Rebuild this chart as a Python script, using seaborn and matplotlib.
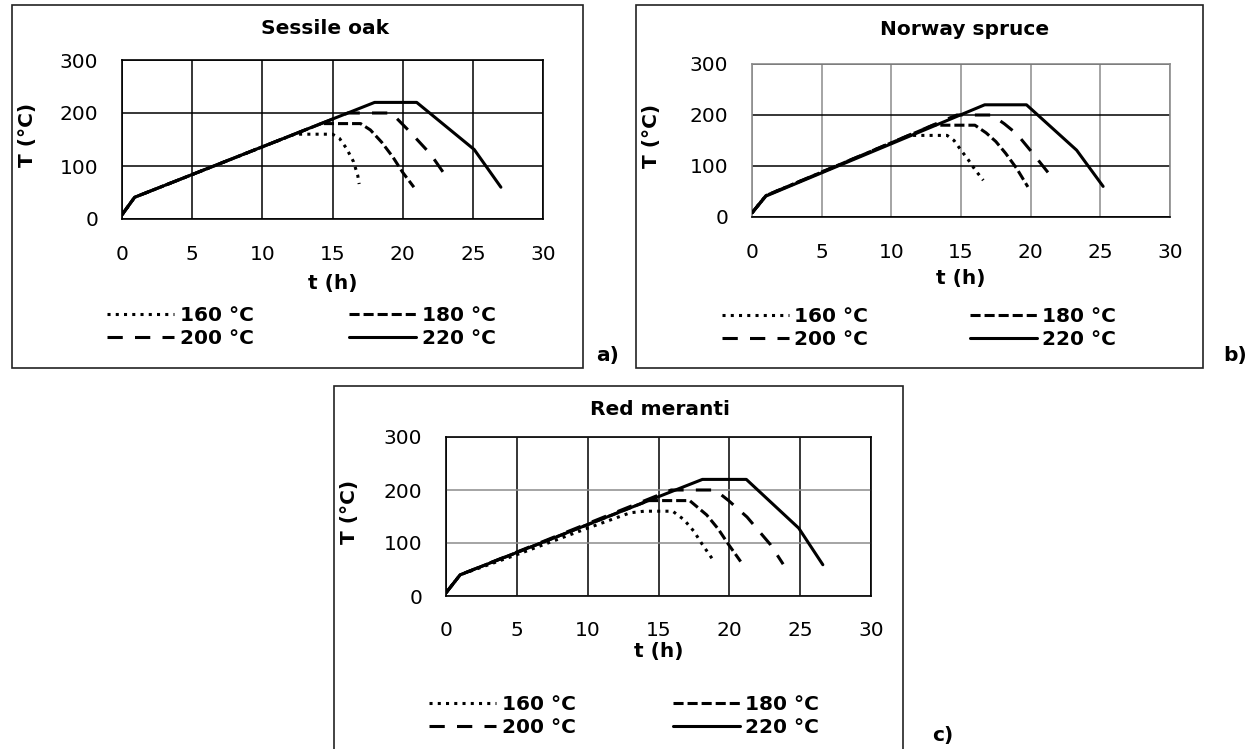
import matplotlib
matplotlib.use("Agg")
import matplotlib.pyplot as plt
import seaborn as sns
import pandas as pd
from matplotlib.lines import Line2D
from matplotlib.patches import Rectangle

sns.set_style("white")
plt.rcParams["font.family"] = ["DejaVu Sans"]
plt.rcParams["text.color"] = "black"
plt.rcParams["axes.labelcolor"] = "black"
plt.rcParams["xtick.color"] = "black"
plt.rcParams["ytick.color"] = "black"

W, H = 1251, 749
FS = 14.5

series_labels = ["160 °C", "180 °C", "200 °C", "220 °C"]
panel_titles = ["Sessile oak", "Norway spruce", "Red meranti"]
panel_tags = ["a)", "b)", "c)"]
x_ticks = [0, 5, 10, 15, 20, 25, 30]
y_ticks = [0, 100, 200, 300]

# ---- Sessile oak ----
oak_t_160 = [0, 0.9, 12.3, 15.0, 15.5, 16.0, 16.5, 16.8, 16.9]
oak_T_160 = [8, 41, 160, 160, 152, 133, 108, 82, 66]
oak_t_180 = [0, 0.9, 14.2, 17.0, 17.7, 18.5, 19.3, 20.0, 20.8]
oak_T_180 = [8, 41, 180, 180, 168, 145, 117, 88, 60]
oak_t_200 = [0, 0.9, 16.1, 19.2, 20.5, 22.0, 23.1]
oak_T_200 = [8, 41, 200, 200, 165, 122, 80]
oak_t_220 = [0, 0.9, 18.0, 21.0, 25.1, 27.0]
oak_T_220 = [8, 41, 220, 220, 131, 60]

# ---- Norway spruce ----
spr_t_160 = [0, 1.0, 11.3, 14.0, 14.5, 15.0, 15.5, 16.0, 16.6]
spr_T_160 = [8, 42, 160, 160, 150, 131, 113, 93, 72]
spr_t_180 = [0, 1.0, 13.0, 16.0, 16.8, 17.5, 18.2, 19.0, 19.8]
spr_T_180 = [8, 42, 180, 180, 165, 148, 125, 95, 59]
spr_t_200 = [0, 1.0, 14.7, 17.2, 18.1, 19.0, 20.0, 21.4]
spr_T_200 = [8, 42, 200, 200, 183, 163, 130, 82]
spr_t_220 = [0, 1.0, 16.7, 19.7, 23.3, 25.2]
spr_T_220 = [8, 41, 220, 220, 131, 60]

# ---- Red meranti ----
mer_t_160 = [0, 1.0, 5.0, 10.0, 13.0, 14.0, 16.0, 16.8, 17.5, 18.1, 18.8]
mer_T_160 = [6, 40, 78, 128, 157, 160, 160, 144, 122, 97, 70]
mer_t_180 = [0, 1.0, 14.3, 17.2, 18.4, 19.2, 19.95, 20.8]
mer_T_180 = [6, 40, 180, 180, 153, 127, 97, 65]
mer_t_200 = [0, 1.0, 15.9, 19.0, 19.95, 21.25, 22.9, 23.8]
mer_T_200 = [6, 40, 200, 200, 180, 149, 97, 60]
mer_t_220 = [0, 1.0, 18.1, 21.2, 24.9, 26.6]
mer_T_220 = [6, 40, 220, 220, 128, 59]

panel_data = [
    [(oak_t_160, oak_T_160), (oak_t_180, oak_T_180), (oak_t_200, oak_T_200), (oak_t_220, oak_T_220)],
    [(spr_t_160, spr_T_160), (spr_t_180, spr_T_180), (spr_t_200, spr_T_200), (spr_t_220, spr_T_220)],
    [(mer_t_160, mer_T_160), (mer_t_180, mer_T_180), (mer_t_200, mer_T_200), (mer_t_220, mer_T_220)],
]

dash_map = {"160 °C": (1, 1.7), "180 °C": (3.3, 1.3), "200 °C": (5, 4), "220 °C": ""}
LW = 2.2

# layout in pixels
axes_px = [(122, 543, 60, 219), (752, 1170, 64, 217), (446, 871, 437, 596)]
box_px = [(12, 583, 5, 368), (636, 1203, 5, 368), (334, 903, 386, 760)]
tag_px = [(596, 355), (1223, 355), (932, 735)]
title_pad = [19, 21, 16]
title_x = [325, 965, 660]
xlabel_y = [283, 279, 651]
legend_cols = [(107, 349, 327), (722, 970, 328), (429, 673, 716)]

GREY = "#8c8c8c"
grid_styles = [
    dict(v="black", h="black", spines=dict(left="black", right="black", top="black", bottom="black")),
    dict(v=GREY, h="black", spines=dict(left=GREY, right=GREY, top=GREY, bottom="black")),
    dict(v="black", h=GREY, spines=dict(left="black", right="black", top="black", bottom="black")),
]

fig = plt.figure(figsize=(W / 100, H / 100), dpi=100)

for i in range(3):
    l, r, t, b = axes_px[i]
    ax = fig.add_axes([l / W, 1 - b / H, (r - l) / W, (b - t) / H])
    frames = []
    for lab, (tt, TT) in zip(series_labels, panel_data[i]):
        frames.append(pd.DataFrame({"t": tt, "T": TT, "series": lab}))
    df = pd.concat(frames, ignore_index=True)
    sns.lineplot(data=df, x="t", y="T", style="series", style_order=series_labels,
                 dashes=dash_map, color="black", linewidth=LW, sort=False,
                 estimator=None, legend=False, ax=ax, zorder=3)
    ax.set_xlim(0, 30)
    ax.set_ylim(0, 300)
    ax.set_xticks(x_ticks)
    ax.set_yticks(y_ticks)
    ax.tick_params(axis="both", length=0, labelsize=FS, colors="black")
    ax.tick_params(axis="y", pad=17)
    ax.tick_params(axis="x", pad=19 if i < 2 else 18)
    gs = grid_styles[i]
    ax.xaxis.grid(True, color=gs["v"], linewidth=1.1)
    ax.yaxis.grid(True, color=gs["h"], linewidth=1.1)
    ax.set_axisbelow(True)
    for side, col in gs["spines"].items():
        ax.spines[side].set_color(col)
        ax.spines[side].set_linewidth(1.2)
        ax.spines[side].set_visible(True)
    ax.set_title(panel_titles[i], fontsize=FS, fontweight="bold", pad=title_pad[i],
                 x=(title_x[i] - l) / (r - l), color="black")
    ax.set_xlabel("t (h)", fontsize=FS, fontweight="bold", color="black")
    ax.set_ylabel("T (°C)", fontsize=FS, fontweight="bold", color="black")
    ax.xaxis.set_label_coords(0.5, (b - xlabel_y[i]) / (b - t))
    ax.xaxis.label.set_verticalalignment("center")
    ax.yaxis.set_label_coords((box_px[i][0] + 16 - l) / (r - l), 0.53)
    ax.yaxis.label.set_verticalalignment("center")

    # legend: two columns, each its own legend block
    handles = {lab: Line2D([], [], color="black", linewidth=LW,
                           linestyle=((0, dash_map[lab]) if dash_map[lab] else "-"))
               for lab in series_labels}
    c1, c2, ly = legend_cols[i]
    for cx, labs in ((c1, ["160 °C", "200 °C"]), (c2, ["180 °C", "220 °C"])):
        fig.legend([handles[o] for o in labs], labs, loc="center left",
                   bbox_to_anchor=(cx / W, 1 - ly / H), bbox_transform=fig.transFigure,
                   ncol=1, frameon=False, borderpad=0, borderaxespad=0,
                   handlelength=3.35, handletextpad=0.25, labelspacing=0.22,
                   labelcolor="black", prop=dict(size=FS, weight="bold"))

    # chart-area frame
    bx0, bx1, by0, by1 = box_px[i]
    fig.patches.append(Rectangle((bx0 / W, 1 - by1 / H), (bx1 - bx0) / W, (by1 - by0) / H,
                                 transform=fig.transFigure, fill=False,
                                 edgecolor="#222222", linewidth=1.2, zorder=0))
    fig.text(tag_px[i][0] / W, 1 - tag_px[i][1] / H, panel_tags[i], fontsize=FS,
             fontweight="bold", ha="left", va="center", color="black")

fig.savefig("out.png", dpi=100)
